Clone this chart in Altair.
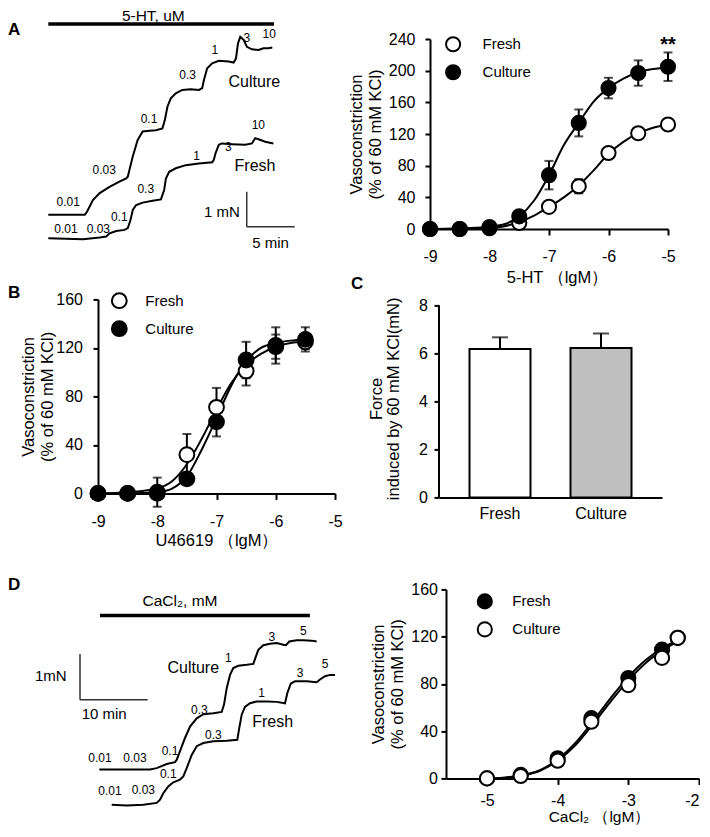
import altair as alt
import pandas as pd

FONT = "Liberation Sans"

# ---------------- Panel A: isometric traces (time in min, force in mN) ----------------
A_CUL_T = [0, 3.8, 4.03, 4.65, 5.35, 6.38, 7.41, 8.11, 8.28, 8.79, 9.31, 9.83, 10.52, 11.21, 11.89,
           12.14, 12.41, 12.76, 13.28, 13.96, 14.83, 15.69, 16.03, 16.21, 16.55, 17.07, 17.76, 18.79,
           19.31, 19.55, 19.76, 20.0, 20.34, 20.69, 21.21, 21.9, 22.41, 22.93, 23.34]
A_CUL_F = [0.67, 0.67, 0.76, 1.09, 1.29, 1.47, 1.62, 1.71, 1.76, 2.33, 2.81, 3.05, 3.07, 3.09, 3.14,
           3.38, 3.76, 4.00, 4.14, 4.24, 4.26, 4.24, 4.29, 4.52, 4.86, 5.00, 5.07, 5.05,
           5.02, 5.14, 5.57, 5.76, 5.67, 5.47, 5.40, 5.38, 5.43, 5.43, 5.45]
A_FR_T = [0, 3.62, 5.35, 6.04, 6.38, 7.08, 7.94, 8.28, 8.56, 8.8, 9.15, 9.83, 10.86, 11.73, 12.07,
          12.25, 12.59, 13.28, 14.31, 15.69, 17.07, 17.24, 17.42, 17.76, 18.1, 19.14, 20.52, 21.21,
          21.55, 21.9, 22.59, 23.45]
A_FR_F = [0, -0.03, 0.02, 0.05, 0.14, 0.21, 0.24, 0.29, 0.52, 0.81, 0.95, 1.02, 1.07, 1.11, 1.38,
          1.71, 1.90, 2.0, 2.09, 2.14, 2.17, 2.24, 2.43, 2.67, 2.71, 2.69, 2.67, 2.71,
          2.86, 2.83, 2.76, 2.71]
A_LBL_TXT = ["0.01", "0.03", "0.1", "0.3", "1", "3", "10", "0.01", "0.03", "0.1", "0.3", "1", "3", "10"]
A_LBL_T = [2.08, 5.83, 10.49, 14.52, 17.36, 20.67, 23.02, 1.84, 5.21, 7.4, 10.15, 15.46, 18.76, 21.88]
A_LBL_F = [1.05, 1.94, 3.42, 4.67, 5.38, 5.73, 5.83, 0.26, 0.26, 0.6, 1.41, 2.36, 2.62, 3.24]
A_NAME_TXT = ["Culture", "Fresh"]
A_NAME_T = [21.46, 21.53]
A_NAME_F = [4.46, 2.07]
A_HEAD = "5-HT, uM"
A_HEAD_T, A_HEAD_F = 10.94, 6.36
A_BAR_T0, A_BAR_T1, A_BAR_F = 0, 23.51, 6.12
A_SB_T0 = [20.67, 20.67]
A_SB_T1 = [20.67, 25.67]
A_SB_F0 = [1.33, 0.33]
A_SB_F1 = [0.33, 0.33]
A_SB_TXT = ["1 mN", "5 min"]
A_SB_TT = [18.09, 23.15]
A_SB_TF = [0.76, -0.12]

# ---------------- Panel D: isometric traces ----------------
D_CUL_T = [0, 7.49, 8.48, 9.96, 11.18, 11.43, 11.92, 12.66, 13.40, 14.39, 15.36, 16.84, 18.08, 18.42,
           18.82, 19.31, 19.79, 20.53, 21.77, 22.75, 23.15, 23.49, 24.22, 25.21, 26.2, 27.18, 27.58,
           28.06, 29.16, 30.13, 31.37, 32.11]
D_CUL_F = [0.77, 0.77, 0.80, 0.89, 0.93, 0.98, 1.17, 1.46, 1.71, 1.89, 1.98, 2.00, 2.03, 2.19,
           2.55, 2.84, 2.99, 3.04, 3.06, 3.08, 3.25, 3.39, 3.49, 3.52, 3.54, 3.50, 3.49,
           3.57, 3.60, 3.60, 3.59, 3.57]
D_FR_T = [1.83, 4.05, 6.5, 8.48, 8.97, 9.45, 10.19, 10.93, 11.92, 12.41, 12.91, 13.65, 14.39, 15.36,
          16.84, 18.82, 20.38, 20.68, 21.03, 21.52, 22.26, 23.25, 24.73, 26.2, 27.43, 27.77, 28.27,
          28.91, 30.63, 32.11, 32.6, 33.34, 34.08, 34.82]
D_FR_F = [0, -0.02, 0, 0.04, 0.11, 0.25, 0.40, 0.49, 0.55, 0.62, 0.80, 1.09, 1.28, 1.35,
          1.39, 1.40, 1.42, 1.68, 1.97, 2.14, 2.22, 2.26, 2.26, 2.25, 2.22, 2.44, 2.65,
          2.70, 2.70, 2.68, 2.74, 2.81, 2.84, 2.84]
D_LBL_TXT = ["0.01", "0.03", "0.1", "0.3", "1", "3", "5", "0.01", "0.03", "0.1", "0.3", "1", "3", "5"]
D_LBL_T = [0.1, 5.27, 10.44, 14.77, 19.05, 25.47, 30.13, 1.58, 6.5, 10.19, 16.84, 23.99, 29.65, 33.34]
D_LBL_F = [1.03, 1.03, 1.17, 2.08, 3.22, 3.68, 3.81, 0.31, 0.33, 0.68, 1.53, 2.44, 2.88, 3.08]
D_NAME_TXT = ["Culture", "Fresh"]
D_NAME_T = [13.88, 25.6]
D_NAME_F = [2.99, 1.80]
D_HEAD = "CaCl\u2082, mM"
D_HEAD_T, D_HEAD_F = 11.92, 4.45
D_BAR_T0, D_BAR_T1, D_BAR_F = 0.1, 31.1, 4.14
D_SB_T0 = [-2.85, -2.85]
D_SB_T1 = [-2.85, 7.15]
D_SB_F0 = [3.295, 2.298]
D_SB_F1 = [2.298, 2.298]
D_SB_TXT = ["1mN", "10 min"]
D_SB_TT = [-7.16, 0.72]
D_SB_TF = [2.82, 1.99]

# ---------------- Dose-response data ----------------
A_X = [-9, -8.5, -8, -7.5, -7, -6.5, -6, -5.5, -5]
A_FRESH = [0, 0, 1, 7.6, 28, 54, 96, 121, 132]
A_FRESH_ERR = [0, 0, 0, 2, 3, 9, 4, 3, 3]
A_CUL = [0, 0, 2.5, 16, 68, 134, 178, 197, 205]
A_CUL_ERR = [0, 0, 1, 3, 18, 17, 13, 16, 18]
A_CX = [-9, -8.5, -8.25, -8, -7.75, -7.5, -7.25, -7, -6.75, -6.5, -6.25, -6, -5.75, -5.5, -5.25, -5]
A_CFRESH = [0, 0.3, 0.8, 1.5, 3.5, 9, 17, 28, 40, 55, 74, 95, 110, 121, 128, 132]
A_CCUL = [0, 0.5, 1.5, 3, 6, 16, 36, 68, 106, 134, 161, 178, 190, 198, 202, 204]

B_X = [-9, -8.5, -8, -7.5, -7, -6.5, -6, -5.5]
B_FRESH = [0, 0, 1, 32, 71, 101, 121, 125]
B_FRESH_ERR = [0, 0, 12, 17, 16, 12, 10, 6]
B_CUL = [0, 0, 0, 12, 59, 110, 122, 127]
B_CUL_ERR = [0, 0, 0, 3, 12, 15, 15, 10]
B_CX = [-9, -8.5, -8.25, -8, -7.75, -7.5, -7.25, -7, -6.75, -6.5, -6.25, -6, -5.75, -5.5]
B_CFRESH = [0, 1, 2, 4, 10, 24, 45, 69, 91, 106, 115, 121, 124, 125]
B_CCUL = [0, 0, 0.3, 1, 4, 14, 36, 62, 89, 109, 120, 124, 126, 127]

C_CAT = ["Fresh", "Culture"]
C_MEAN = [6.18, 6.22]
C_ERR = [0.49, 0.61]

D_X = [-5, -4.523, -4, -3.523, -3, -2.523, -2.301]
D_FRESH = [0, 3, 17, 51, 85, 109, 119]
D_FRESH_ERR = [0, 1, 2, 3, 3, 3, 3]
D_CUL = [0, 2, 15, 48, 79, 102, 119]
D_CUL_ERR = [0, 1, 2, 3, 5, 5, 4]
D_CX = [-4.9, -4.75, -4.5, -4.25, -4, -3.75, -3.5, -3.25, -3, -2.75, -2.5, -2.3]
D_CFRESH = [0, 0.6, 2.8, 7, 16, 30, 48.5, 68, 86, 100.5, 111, 117]
D_CCUL = [0, 0.5, 2.5, 6.5, 15, 28, 46, 65, 83, 98, 109, 116]

SERIES = ["Fresh", "Culture"]


def letter_layer(txt, x, y):
    return alt.Chart(pd.DataFrame({"txt": [txt]})).mark_text(
        fontSize=17, fontWeight="bold", align="left", baseline="top", color="black"
    ).encode(x=alt.value(x), y=alt.value(y), text="txt:N")


def trace_panel(cul_t, cul_f, fr_t, fr_f, lbl_txt, lbl_t, lbl_f, name_txt, name_t, name_f,
                head, head_t, head_f, head_size, bar, sb_t0, sb_t1, sb_f0, sb_f1,
                sb_txt, sb_tt, sb_tf, xdom, ydom, w, h, letter, letter_y):
    xs = alt.Scale(domain=xdom, nice=False, zero=False)
    ys = alt.Scale(domain=ydom, nice=False, zero=False)

    def X(f):
        return alt.X(f, type="quantitative", scale=xs, axis=None)

    def Y(f):
        return alt.Y(f, type="quantitative", scale=ys, axis=None)

    lines_df = pd.concat([
        pd.DataFrame({"t": cul_t, "f": cul_f, "series": "Culture", "i": range(len(cul_t))}),
        pd.DataFrame({"t": fr_t, "f": fr_f, "series": "Fresh", "i": range(len(fr_t))}),
    ])
    lines = alt.Chart(lines_df).mark_line(color="black", strokeWidth=2).encode(
        x=X("t"), y=Y("f"), detail="series:N", order="i:Q")
    lbl = alt.Chart(pd.DataFrame({"txt": lbl_txt, "t": lbl_t, "f": lbl_f})).mark_text(
        fontSize=12, color="black").encode(x=X("t"), y=Y("f"), text="txt:N")
    names = alt.Chart(pd.DataFrame({"txt": name_txt, "t": name_t, "f": name_f})).mark_text(
        fontSize=16, color="black").encode(x=X("t"), y=Y("f"), text="txt:N")
    headt = alt.Chart(pd.DataFrame({"txt": [head], "t": [head_t], "f": [head_f]})).mark_text(
        fontSize=head_size, color="black").encode(x=X("t"), y=Y("f"), text="txt:N")
    barl = alt.Chart(pd.DataFrame({"t0": [bar[0]], "t1": [bar[1]], "f": [bar[2]]})).mark_rule(
        color="black", strokeWidth=3.5).encode(x=X("t0"), x2="t1:Q", y=Y("f"))
    sb = alt.Chart(pd.DataFrame({"t0": sb_t0, "t1": sb_t1, "f0": sb_f0, "f1": sb_f1})).mark_rule(
        color="#333333", strokeWidth=1.5).encode(x=X("t0"), x2="t1:Q", y=Y("f0"), y2="f1:Q")
    sbt = alt.Chart(pd.DataFrame({"txt": sb_txt, "t": sb_tt, "f": sb_tf})).mark_text(
        fontSize=15, color="black").encode(x=X("t"), y=Y("f"), text="txt:N")
    let = letter_layer(letter, -90, letter_y)
    return alt.layer(lines, barl, sb, lbl, names, headt, sbt, let).properties(width=w, height=h)


def dose_panel(xv, fr, fr_e, cu, cu_e, cxv, cfr, ccu, xdom, ydom, xticks, yticks, w, h,
               fill_range, size, leg, xtitle, xax_kw, yax_kw, stars=None, letter=None):
    n = len(xv)
    pts = pd.DataFrame({"x": list(xv) * 2, "y": list(fr) + list(cu), "e": list(fr_e) + list(cu_e),
                        "series": ["Fresh"] * n + ["Culture"] * n})
    pts["lo"] = pts["y"] - pts["e"]
    pts["hi"] = pts["y"] + pts["e"]
    err = pts[pts["e"] > 0]
    caps = pd.concat([err.assign(v=err["lo"]), err.assign(v=err["hi"])])
    m = len(cxv)
    cur = pd.DataFrame({"x": list(cxv) * 2, "y": list(cfr) + list(ccu),
                        "series": ["Fresh"] * m + ["Culture"] * m})
    xs = alt.Scale(domain=xdom, nice=False, zero=False)
    ys = alt.Scale(domain=ydom, nice=False, zero=False)
    xax = alt.Axis(values=xticks, labelExpr="'' + datum.value", title=xtitle, **xax_kw)
    yax = alt.Axis(values=yticks, labelExpr="'' + datum.value",
                   title=["Vasoconstriction", "(% of 60 mM KCl)"], **yax_kw)
    X = alt.X("x:Q", scale=xs, axis=xax)
    curve = alt.Chart(cur).mark_line(color="black", strokeWidth=2, interpolate="monotone").encode(
        x=X, y=alt.Y("y:Q", scale=ys, axis=yax), detail="series:N")
    rules = alt.Chart(err).mark_rule(color="black", strokeWidth=2).encode(
        x=X, y=alt.Y("lo:Q", scale=ys, axis=yax), y2="hi:Q")
    capm = alt.Chart(caps).mark_tick(color="black", thickness=2, size=9, orient="horizontal").encode(
        x=X, y=alt.Y("v:Q", scale=ys, axis=yax))
    points = alt.Chart(pts).mark_point(filled=True, size=size, stroke="black", strokeWidth=2,
                                       opacity=1, shape="circle").encode(
        x=X, y=alt.Y("y:Q", scale=ys, axis=yax),
        fill=alt.Fill("series:N", scale=alt.Scale(domain=SERIES, range=fill_range),
                      legend=alt.Legend(orient="none", legendX=leg[0], legendY=leg[1], title=None,
                                        symbolType="circle", symbolSize=size, symbolStrokeColor="black",
                                        symbolStrokeWidth=2, labelFontSize=15, labelFont=FONT,
                                        labelColor="black", labelOffset=leg[2], rowPadding=5,
                                        padding=0)))
    layers = [curve, rules, capm, points]
    if stars is not None:
        layers.append(alt.Chart(pd.DataFrame({"x": [stars[0]], "y": [stars[1]], "txt": ["**"]})).mark_text(
            fontSize=20, fontWeight="bold", baseline="alphabetic", color="black").encode(
            x=X, y=alt.Y("y:Q", scale=ys, axis=yax), text="txt:N"))
    if letter is not None:
        layers.append(letter_layer(*letter))
    return alt.layer(*layers).properties(width=w, height=h)


# ---------------- build panels ----------------
a_trace = trace_panel(A_CUL_T, A_CUL_F, A_FR_T, A_FR_F, A_LBL_TXT, A_LBL_T, A_LBL_F,
                      A_NAME_TXT, A_NAME_T, A_NAME_F, A_HEAD, A_HEAD_T, A_HEAD_F, 15.5,
                      (A_BAR_T0, A_BAR_T1, A_BAR_F), A_SB_T0, A_SB_T1, A_SB_F0, A_SB_F1,
                      A_SB_TXT, A_SB_TT, A_SB_TF, [5.177, 39.76], [0.2657, 5.694], 332, 190, "A", -17)

a_right = dose_panel(A_X, A_FRESH, A_FRESH_ERR, A_CUL, A_CUL_ERR, A_CX, A_CFRESH, A_CCUL,
                     [-9, -5], [0, 240], [-9, -8, -7, -6, -5], [0, 40, 80, 120, 160, 200, 240],
                     238, 190, ["white", "black"], 200, (14.6, -3.2, 21), "5-HT \uff08lgM\uff09",
                     dict(tickSize=6, labelPadding=13, titleX=127, titleY=40.5),
                     dict(tickSize=5, labelPadding=10, titlePadding=4.5, titleLineHeight=19),
                     stars=(-5, 225))

b_panel = dose_panel(B_X, B_FRESH, B_FRESH_ERR, B_CUL, B_CUL_ERR, B_CX, B_CFRESH, B_CCUL,
                     [-9, -5], [0, 160], [-9, -8, -7, -6, -5], [0, 40, 80, 120, 160],
                     237, 194, ["white", "black"], 220, (12.8, -7.2, 17.5), "U46619 \uff08lgM\uff09",
                     dict(tickSize=6, labelPadding=14, titlePadding=3.4),
                     dict(tickSize=5, labelPadding=10.5, titlePadding=0.6, titleLineHeight=19),
                     letter=("B", -90, -14.3))

cdf = pd.DataFrame({"cat": C_CAT, "m": C_MEAN, "e": C_ERR})
cdf["hi"] = cdf["m"] + cdf["e"]
cxs = alt.Scale(domain=C_CAT, paddingInner=0, paddingOuter=0.104)
cys = alt.Scale(domain=[0, 8.25], nice=False, zero=True)
c_xax = alt.Axis(title=None, ticks=False, labelAngle=0, labelPadding=8, labelFontSize=16)
c_yax = alt.Axis(values=[0, 2, 4, 6, 8], domain=False, title=["Force", "induced by 60 mM KCl(mN)"],
                 tickSize=5, labelPadding=6.5, titlePadding=16.9, titleLineHeight=17)
c_bars = alt.Chart(cdf).mark_bar(stroke="black", strokeWidth=2, size=61).encode(
    x=alt.X("cat:N", scale=cxs, sort=C_CAT, axis=c_xax),
    y=alt.Y("m:Q", scale=cys, axis=c_yax),
    fill=alt.Fill("cat:N", scale=alt.Scale(domain=C_CAT, range=["white", "#c0c0c0"]), legend=None))
c_err = alt.Chart(cdf).mark_rule(color="black", strokeWidth=2).encode(
    x=alt.X("cat:N", scale=cxs, sort=C_CAT, axis=c_xax), y=alt.Y("m:Q", scale=cys, axis=c_yax), y2="hi:Q")
c_cap = alt.Chart(cdf).mark_tick(color="black", thickness=2, size=16, orient="horizontal").encode(
    x=alt.X("cat:N", scale=cxs, sort=C_CAT, axis=c_xax), y=alt.Y("hi:Q", scale=cys, axis=c_yax))
c_axis = alt.Chart(pd.DataFrame({"a": [0]})).mark_rule(color="black", strokeWidth=2).encode(
    x=alt.value(0), y=alt.datum(0), y2=alt.datum(8))
c_panel = alt.layer(c_bars, c_err, c_cap, c_axis, letter_layer("C", -88, -23.6)).properties(
    width=223, height=198)

d_trace = trace_panel(D_CUL_T, D_CUL_F, D_FR_T, D_FR_F, D_LBL_TXT, D_LBL_T, D_LBL_F,
                      D_NAME_TXT, D_NAME_T, D_NAME_F, D_HEAD, D_HEAD_T, D_HEAD_F, 15.5,
                      (D_BAR_T0, D_BAR_T1, D_BAR_F), D_SB_T0, D_SB_T1, D_SB_F0, D_SB_F1,
                      D_SB_TXT, D_SB_TT, D_SB_TF, [-0.192, 51.21], [0.5755, 4.711], 348, 189,
                      "\u2002D", -12)

d_right = dose_panel(D_X, D_FRESH, D_FRESH_ERR, D_CUL, D_CUL_ERR, D_CX, D_CFRESH, D_CCUL,
                     [-5.58, -2], [0, 160], [-5, -4, -3, -2], [0, 40, 80, 120, 160],
                     253, 189, ["black", "white"], 200, (30.3, 3.5, 19), "CaCl\u2082 \uff08lgM\uff09",
                     dict(tickSize=6, labelPadding=8, titleX=153, titleY=31.5, titleFontSize=15.5,
                          labelFlush=True),
                     dict(tickSize=5, labelPadding=3.5, titlePadding=5.8, titleLineHeight=19))

IND = dict(x="independent", y="independent", fill="independent")

row1 = alt.hconcat(a_trace, a_right, spacing=0, bounds="flush").resolve_scale(**IND).resolve_legend(fill="independent")
row2 = alt.hconcat(b_panel, c_panel, spacing=104, bounds="flush").resolve_scale(**IND).resolve_legend(fill="independent")
row3 = alt.hconcat(d_trace, d_right, spacing=0, bounds="flush").resolve_scale(**IND).resolve_legend(fill="independent")
lower = alt.vconcat(row2, row3, spacing=27).resolve_scale(**IND).resolve_legend(fill="independent")

chart = alt.vconcat(row1, lower, spacing=-11.6).resolve_scale(**IND).resolve_legend(
    fill="independent").properties(padding=0).configure(
    font=FONT
).configure_view(stroke=None).configure_axis(
    domainColor="black", domainWidth=2, tickColor="black", tickWidth=2,
    labelColor="black", titleColor="black", labelFont=FONT, titleFont=FONT,
    labelFontSize=16, titleFontSize=16.5, titleFontWeight="normal", grid=False,
    labelFlush=False, labelOverlap=False
).configure_text(font=FONT)

chart.save("out.html", embed_options={"renderer": "svg", "actions": False})
